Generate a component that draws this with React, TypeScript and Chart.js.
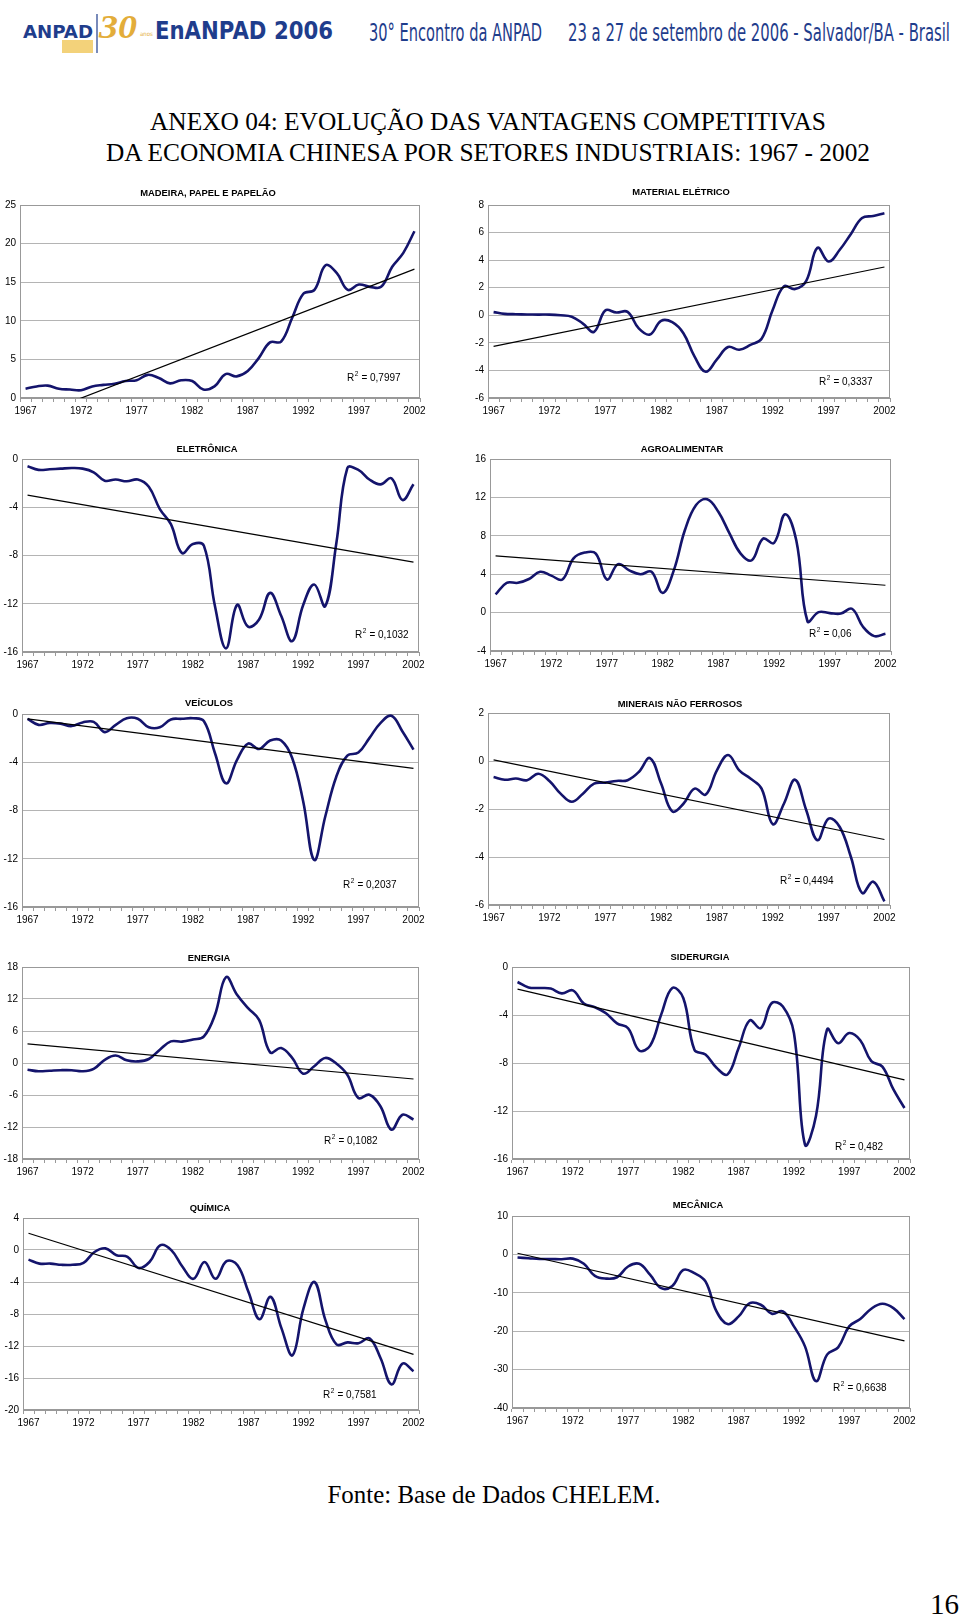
import React, { useEffect, useRef } from 'react';
import { Chart, registerables } from 'chart.js';

Chart.register(...registerables);
Chart.defaults.font.family = "'Liberation Sans', Arial, sans-serif";

// ---------------- DATA ----------------
const years = [
  '1967', '1968', '1969', '1970', '1971', '1972', '1973', '1974', '1975', '1976', '1977', '1978',
  '1979', '1980', '1981', '1982', '1983', '1984', '1985', '1986', '1987', '1988', '1989', '1990',
  '1991', '1992', '1993', '1994', '1995', '1996', '1997', '1998', '1999', '2000', '2001', '2002',
];

const madeiraValues = [1.2, 1.5, 1.6, 1.2, 1.1, 1.0, 1.5, 1.7, 1.85, 2.2, 2.3, 3.0, 2.6, 1.9, 2.3, 2.2, 1.1, 1.5, 3.1, 2.8, 3.5, 5.2, 7.2, 7.3, 10.4, 13.5, 14.0, 17.2, 16.2, 14.0, 14.7, 14.4, 14.4, 17.0, 18.8, 21.6];
const madeiraTrend = [-2.8, 16.7];

const materialEletricoValues = [0.23, 0.1, 0.08, 0.06, 0.05, 0.05, 0.0, -0.1, -0.6, -1.2, 0.35, 0.2, 0.25, -0.95, -1.4, -0.4, -0.5, -1.3, -3.0, -4.1, -3.2, -2.3, -2.5, -2.15, -1.7, 0.4, 2.1, 1.9, 2.5, 4.9, 3.9, 4.75, 5.9, 7.05, 7.2, 7.4];
const materialEletricoTrend = [-2.25, 3.5];

const eletronicaValues = [-0.6, -0.9, -0.85, -0.8, -0.75, -0.8, -1.1, -1.8, -1.7, -1.85, -1.7, -2.3, -4.15, -5.4, -7.8, -7.05, -7.2, -12.2, -15.7, -12.1, -13.9, -13.3, -11.1, -13.0, -15.1, -12.1, -10.4, -12.2, -7.0, -0.75, -0.9, -1.7, -2.1, -1.6, -3.4, -2.1];
const eletronicaTrend = [-3.0, -8.55];

const agroValues = [1.9, 3.1, 3.1, 3.5, 4.25, 3.85, 3.45, 5.65, 6.25, 6.15, 3.45, 5.05, 4.4, 4.0, 4.25, 2.05, 4.4, 8.6, 11.2, 11.8, 10.5, 8.25, 6.15, 5.45, 7.7, 7.25, 10.25, 7.5, -0.9, 0.05, -0.05, -0.1, 0.4, -1.5, -2.45, -2.2];
const agroTrend = [5.9, 2.85];

const veiculosValues = [-0.4, -0.9, -0.75, -0.8, -1.0, -0.7, -0.65, -1.5, -0.9, -0.35, -0.4, -1.1, -1.1, -0.45, -0.4, -0.35, -0.6, -3.25, -5.75, -3.8, -2.45, -2.9, -2.2, -2.2, -3.65, -7.25, -12.1, -8.5, -5.2, -3.45, -3.2, -2.0, -0.75, -0.15, -1.45, -2.95];
const veiculosTrend = [-0.4, -4.5];

const mineraisValues = [-0.67, -0.78, -0.73, -0.8, -0.53, -0.83, -1.36, -1.7, -1.36, -0.94, -0.9, -0.83, -0.8, -0.46, 0.12, -0.94, -2.1, -1.78, -1.15, -1.4, -0.39, 0.25, -0.39, -0.73, -1.15, -2.63, -1.78, -0.78, -2.05, -3.3, -2.4, -2.75, -4.0, -5.5, -5.03, -5.85];
const mineraisTrend = [0.05, -3.27];

const energiaValues = [-1.25, -1.55, -1.45, -1.35, -1.35, -1.55, -1.1, 0.6, 1.4, 0.5, 0.3, 0.75, 2.5, 4.05, 4.0, 4.4, 5.0, 9.05, 16.1, 12.8, 10.3, 8.1, 2.0, 2.8, 0.95, -2.0, -0.6, 0.95, -0.1, -2.2, -6.55, -5.95, -8.1, -12.5, -9.7, -10.6];
const energiaTrend = [3.6, -3.0];

const siderurgiaValues = [-1.25, -1.7, -1.75, -1.8, -2.2, -1.95, -3.05, -3.35, -3.85, -4.7, -5.1, -6.95, -6.55, -3.95, -1.75, -2.6, -6.9, -7.3, -8.4, -8.95, -6.75, -4.45, -5.1, -3.0, -3.3, -5.5, -14.8, -12.4, -5.2, -6.35, -5.5, -6.1, -7.85, -8.3, -10.2, -11.75];
const siderurgiaTrend = [-1.85, -9.4];

const quimicaValues = [-1.2, -1.7, -1.7, -1.85, -1.85, -1.6, -0.25, 0.2, -0.65, -0.85, -2.25, -1.5, 0.6, -0.05, -2.1, -3.6, -1.5, -3.6, -1.4, -1.9, -5.25, -8.65, -5.85, -9.8, -13.15, -7.3, -4.0, -8.8, -11.8, -11.55, -11.65, -11.05, -13.5, -16.8, -14.2, -15.15];
const quimicaTrend = [2.1, -13.05];

const mecanicaValues = [-0.8, -1.0, -1.2, -1.2, -1.25, -1.1, -2.45, -5.6, -6.3, -5.95, -3.15, -2.45, -5.35, -8.8, -8.2, -4.05, -4.9, -7.05, -14.85, -18.15, -16.15, -12.7, -13.1, -15.45, -14.85, -18.75, -23.95, -33.0, -26.1, -24.2, -18.75, -16.85, -14.15, -12.85, -14.0, -16.85];
const mecanicaTrend = [0.3, -22.5];

const chartTitles = ['MADEIRA, PAPEL E PAPELÃO', 'MATERIAL ELÉTRICO', 'ELETRÔNICA', 'AGROALIMENTAR', 'VEÍCULOS', 'MINERAIS NÃO FERROSOS', 'ENERGIA', 'SIDERURGIA', 'QUÍMICA', 'MECÂNICA'];
const r2Labels = ['0,7997', '0,3337', '0,1032', '0,06', '0,2037', '0,4494', '0,1082', '0,482', '0,7581', '0,6638'];
const yMins = [0, -6, -16, -4, -16, -6, -18, -16, -20, -40];
const yMaxs = [25, 8, 0, 16, 0, 2, 18, 0, 4, 10];
const ySteps = [5, 2, 4, 4, 4, 2, 6, 4, 4, 10];

const seriesValues = [madeiraValues, materialEletricoValues, eletronicaValues, agroValues, veiculosValues, mineraisValues, energiaValues, siderurgiaValues, quimicaValues, mecanicaValues];
const trendEnds = [madeiraTrend, materialEletricoTrend, eletronicaTrend, agroTrend, veiculosTrend, mineraisTrend, energiaTrend, siderurgiaTrend, quimicaTrend, mecanicaTrend];

// ---------------- LAYOUT (page pixels) ----------------
const plotRects = [
  [20, 205, 420, 398], [488, 205, 890, 398],
  [22, 459, 419, 652], [490, 459, 891, 651],
  [22, 714, 419, 907], [488, 713, 890, 905],
  [22, 967, 419, 1159], [512, 967, 910, 1159],
  [23, 1218, 419, 1410], [512, 1216, 910, 1408],
];
const canvasLefts = [0, 452, 0, 452, 0, 452, 0, 452, 0, 452];
const titlePos = [[208, 193], [681, 192], [207, 449], [682, 449], [209, 703], [680, 704], [209, 958], [700, 957], [210, 1208], [698, 1205]];
const r2Pos = [[347, 378], [819, 382], [355, 635], [809, 634], [343, 885], [780, 881], [324, 1141], [835, 1147], [323, 1395], [833, 1388]];

const PAD_TOP = 30;
const PAD_RIGHT = 12;
const X_AXIS_H = 24;
const NAVY = '#14146c';
const GRID = '#b4b4b4';
const BORDER = '#999999';
const FONT = "'Liberation Sans', Arial, sans-serif";

function MiniChart({ idx }: { idx: number }) {
  const ref = useRef<HTMLCanvasElement>(null);
  const [L, T, R, B] = plotRects[idx];
  const cl = canvasLefts[idx];
  const ct = T - PAD_TOP;
  const w = R + PAD_RIGHT - cl;
  const h = B - T + PAD_TOP + X_AXIS_H;

  useEffect(() => {
    if (!ref.current) return;
    const deco = {
      id: 'deco' + idx,
      beforeDatasetsDraw(chart: any) {
        const { ctx, chartArea } = chart;
        ctx.save();
        ctx.strokeStyle = BORDER;
        ctx.lineWidth = 1;
        ctx.strokeRect(chartArea.left + 0.5, chartArea.top + 0.5, chartArea.right - chartArea.left - 1, chartArea.bottom - chartArea.top - 1);
        ctx.restore();
      },
      afterDraw(chart: any) {
        const { ctx } = chart;
        ctx.save();
        ctx.fillStyle = '#000';
        ctx.textBaseline = 'middle';
        ctx.textAlign = 'center';
        ctx.font = `bold 9.4px ${FONT}`;
        ctx.fillText(chartTitles[idx], titlePos[idx][0] - cl, titlePos[idx][1] - ct);
        ctx.textAlign = 'left';
        const x0 = r2Pos[idx][0] - cl;
        const y0 = r2Pos[idx][1] - ct;
        ctx.font = `10px ${FONT}`;
        ctx.fillText('R', x0, y0);
        const wR = ctx.measureText('R').width;
        ctx.font = `6.5px ${FONT}`;
        ctx.fillText('2', x0 + wR + 0.5, y0 - 4);
        const w2 = ctx.measureText('2').width;
        ctx.font = `10px ${FONT}`;
        ctx.fillText(' = ' + r2Labels[idx], x0 + wR + w2 + 0.8, y0);
        ctx.restore();
      },
    };
    const chart = new Chart(ref.current, {
      type: 'line',
      data: {
        labels: years,
        datasets: [
          {
            data: [
              { x: years[0], y: trendEnds[idx][0] },
              { x: years[years.length - 1], y: trendEnds[idx][1] },
            ] as any,
            borderColor: '#000',
            borderWidth: 1.2,
            pointRadius: 0,
            tension: 0,
          },
          {
            data: seriesValues[idx],
            borderColor: NAVY,
            borderWidth: 2.6,
            pointRadius: 0,
            tension: 0.4,
          },
        ],
      },
      options: {
        responsive: true,
        maintainAspectRatio: false,
        animation: false,
        events: [],
        layout: { padding: { top: PAD_TOP, right: PAD_RIGHT, left: 0, bottom: 0 } },
        plugins: {
          legend: { display: false },
          tooltip: { enabled: false },
          title: { display: false },
        },
        scales: {
          x: {
            type: 'category',
            offset: true,
            grid: { offset: true, drawOnChartArea: false, drawTicks: true, tickLength: 4, color: BORDER },
            border: { display: true, color: BORDER, width: 1 },
            ticks: {
              autoSkip: false,
              maxRotation: 0,
              minRotation: 0,
              padding: 3,
              color: '#000',
              font: { size: 10, family: FONT },
              callback: (_v: any, i: number) => (i % 5 === 0 ? years[i] : ''),
            },
            afterFit: (s: any) => {
              s.height = X_AXIS_H;
            },
          },
          y: {
            type: 'linear',
            min: yMins[idx],
            max: yMaxs[idx],
            ticks: { stepSize: ySteps[idx], color: '#000', font: { size: 10, family: FONT }, padding: 4 },
            grid: { color: GRID, drawTicks: false },
            border: { display: true, color: BORDER },
            afterFit: (s: any) => {
              s.width = L - cl;
            },
          },
        },
      },
      plugins: [deco],
    } as any);
    return () => chart.destroy();
  }, []);

  return (
    <div style={{ position: 'absolute', left: cl, top: ct, width: w, height: h }}>
      <canvas ref={ref} />
    </div>
  );
}

const HEADER_BLUE = '#1f3d8c';
const NARROW = "'Liberation Sans Narrow', 'DejaVu Sans Condensed', sans-serif";
const SERIF = "'Liberation Serif', 'Times New Roman', serif";

function PageText() {
  return (
    <svg width={960} height={1618} style={{ position: 'absolute', left: 0, top: 0 }}>
      {/* header banner */}
      <text x={23} y={38} fontFamily={NARROW} fontWeight="bold" fontSize={18} fill={HEADER_BLUE} textLength={70} lengthAdjust="spacingAndGlyphs">ANPAD</text>
      <rect x={62} y={40} width={31} height={13} fill="#f3d27a" />
      <line x1={97} y1={14} x2={97} y2={53} stroke={HEADER_BLUE} strokeWidth={1.2} />
      <text x={99} y={38} fontFamily={SERIF} fontStyle="italic" fontWeight="bold" fontSize={33} fill="#e3ad3a" textLength={38} lengthAdjust="spacingAndGlyphs">30</text>
      <text x={140} y={36} fontFamily={NARROW} fontSize={6} fill="#e3ad3a">anos</text>
      <text x={155} y={39} fontFamily="'DejaVu Sans', sans-serif" fontWeight="bold" fontSize={24} fill={HEADER_BLUE} textLength={178} lengthAdjust="spacingAndGlyphs">EnANPAD 2006</text>
      <text x={369} y={41} fontFamily={NARROW} fontSize={24} fill={HEADER_BLUE} textLength={173} lengthAdjust="spacingAndGlyphs">30° Encontro da ANPAD</text>
      <text x={568} y={41} fontFamily={NARROW} fontSize={24} fill={HEADER_BLUE} textLength={382} lengthAdjust="spacingAndGlyphs">23 a 27 de setembro de 2006 - Salvador/BA - Brasil</text>
      {/* page title */}
      <text x={488} y={130} textAnchor="middle" fontFamily={SERIF} fontSize={25} fill="#000" textLength={676} lengthAdjust="spacingAndGlyphs">ANEXO 04: EVOLUÇÃO DAS VANTAGENS COMPETITIVAS</text>
      <text x={488} y={161} textAnchor="middle" fontFamily={SERIF} fontSize={25} fill="#000" textLength={764} lengthAdjust="spacingAndGlyphs">DA ECONOMIA CHINESA POR SETORES INDUSTRIAIS: 1967 - 2002</text>
      {/* footer */}
      <text x={494} y={1503} textAnchor="middle" fontFamily={SERIF} fontSize={25} fill="#000" textLength={333} lengthAdjust="spacingAndGlyphs">Fonte: Base de Dados CHELEM.</text>
      <text x={930} y={1614} fontFamily={SERIF} fontSize={29} fill="#000" textLength={29} lengthAdjust="spacingAndGlyphs">16</text>
    </svg>
  );
}

export default function App() {
  return (
    <div style={{ position: 'absolute', left: 0, top: 0, width: 960, height: 1618, background: '#fff', overflow: 'hidden' }}>
      <PageText />
      {chartTitles.map((_, i) => (
        <MiniChart key={i} idx={i} />
      ))}
    </div>
  );
}
